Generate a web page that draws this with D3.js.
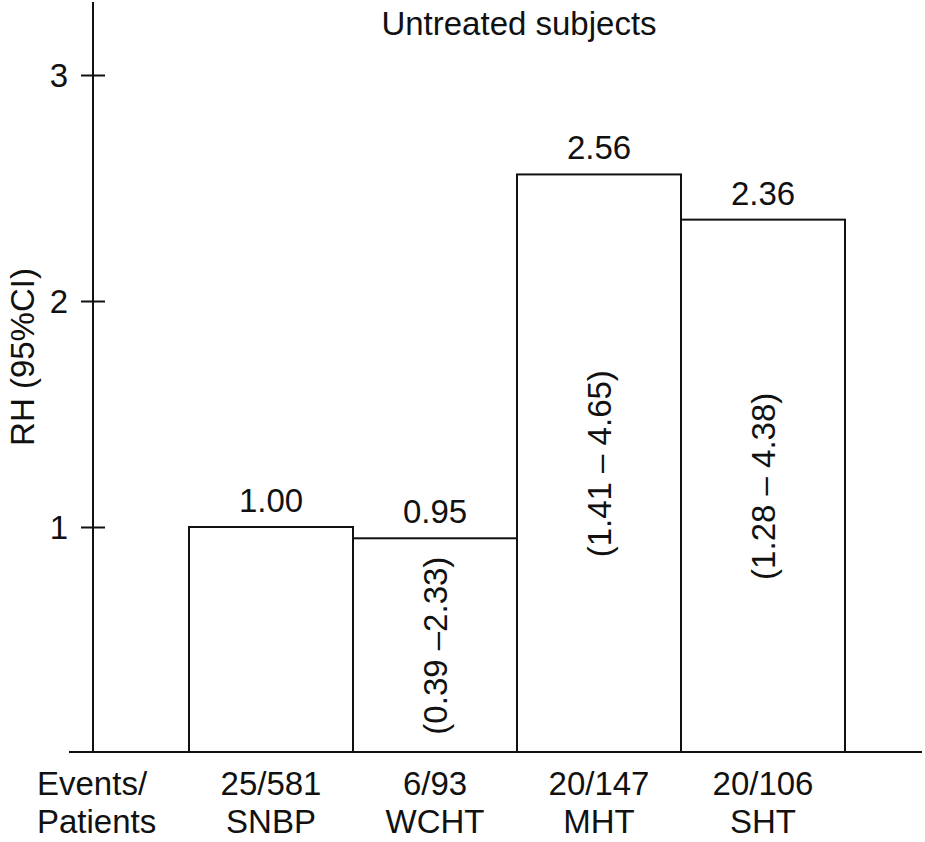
<!DOCTYPE html>
<html>
<head>
<meta charset="utf-8">
<script src="https://cdn.jsdelivr.net/npm/d3@7"></script>
<style>
  html, body { margin: 0; padding: 0; background: #fff; }
  svg { display: block; }
  text { font-family: "Liberation Sans", Arial, Helvetica, sans-serif; fill: #111; }
</style>
</head>
<body>
<script>
// ---- data ----
const title = "Untreated subjects";
const yLabel = "RH (95%CI)";
const categories = ["SNBP", "WCHT", "MHT", "SHT"];
const eventsPatients = ["25/581", "6/93", "20/147", "20/106"];
const rhValues = [1.00, 0.95, 2.56, 2.36];
const valueLabels = ["1.00", "0.95", "2.56", "2.36"];
const ciLabels = [null, "(0.39 \u20132.33)", "(1.41 \u2013 4.65)", "(1.28 \u2013 4.38)"];
const yTicks = [1, 2, 3];
const rowLabels = ["Events/", "Patients"];

// ---- layout ----
const W = 925, H = 842;
const FS = 33;
const svg = d3.select("body").append("svg").attr("width", W).attr("height", H);

const x = d3.scaleBand().domain(categories).range([189, 845]).padding(0);
const y = d3.scaleLinear().domain([0, 3]).range([753, 75]);
const axisX = 93;
const baseY = y(0) - 1;

const bars = categories.map((c, i) => ({
  cat: c, v: rhValues[i], label: valueLabels[i], ci: ciLabels[i], ev: eventsPatients[i]
}));

// title
svg.append("text").attr("x", 519).attr("y", 35)
  .attr("text-anchor", "middle").style("font-size", FS + "px").text(title);

// y axis
const gy = svg.append("g").attr("transform", `translate(${axisX},0)`)
  .call(d3.axisLeft(y).tickValues(yTicks).tickFormat(d3.format("d")).tickSize(12).tickPadding(13));
gy.select(".domain").remove();
gy.selectAll(".tick line").attr("x1", -12).attr("x2", 12).attr("stroke", "#111").attr("stroke-width", 2);
gy.selectAll(".tick text").style("font-size", FS + "px").style("font-family", '"Liberation Sans", Arial, sans-serif')
  .attr("fill", "#111").attr("dy", "0.36em");
svg.append("line").attr("x1", axisX).attr("x2", axisX).attr("y1", 2).attr("y2", baseY)
  .attr("stroke", "#111").attr("stroke-width", 2);

// y label
svg.append("text")
  .attr("transform", `translate(34,357) rotate(-90)`)
  .attr("text-anchor", "middle").style("font-size", FS + "px").text(yLabel);

// bars
svg.selectAll("rect.bar").data(bars).enter().append("rect")
  .attr("class", "bar")
  .attr("x", d => x(d.cat))
  .attr("y", d => y(d.v))
  .attr("width", x.bandwidth())
  .attr("height", d => baseY - y(d.v))
  .attr("fill", "none").attr("stroke", "#111").attr("stroke-width", 2);

// value labels
svg.selectAll("text.val").data(bars).enter().append("text")
  .attr("class", "val")
  .attr("x", d => x(d.cat) + x.bandwidth() / 2)
  .attr("y", d => y(d.v) - 15)
  .attr("text-anchor", "middle").style("font-size", FS + "px").text(d => d.label);

// CI labels (rotated)
svg.selectAll("text.ci").data(bars.filter(d => d.ci)).enter().append("text")
  .attr("class", "ci")
  .attr("transform", d => `translate(${x(d.cat) + x.bandwidth() / 2 + 12},${y(d.v / 2)}) rotate(-90)`)
  .attr("text-anchor", "middle").style("font-size", FS + "px").text(d => d.ci);

// baseline
svg.append("line").attr("x1", 69).attr("x2", 922).attr("y1", baseY).attr("y2", baseY)
  .attr("stroke", "#111").attr("stroke-width", 2);

// category labels
const gl = svg.selectAll("g.cl").data(bars).enter().append("g").attr("class", "cl");
gl.append("text").attr("x", d => x(d.cat) + x.bandwidth() / 2).attr("y", 795)
  .attr("text-anchor", "middle").style("font-size", FS + "px").text(d => d.ev);
gl.append("text").attr("x", d => x(d.cat) + x.bandwidth() / 2).attr("y", 833)
  .attr("text-anchor", "middle").style("font-size", FS + "px").text(d => d.cat);

svg.append("text").attr("x", 37).attr("y", 795).style("font-size", FS + "px").text(rowLabels[0]);
svg.append("text").attr("x", 37).attr("y", 833).style("font-size", FS + "px").text(rowLabels[1]);
</script>
</body>
</html>
